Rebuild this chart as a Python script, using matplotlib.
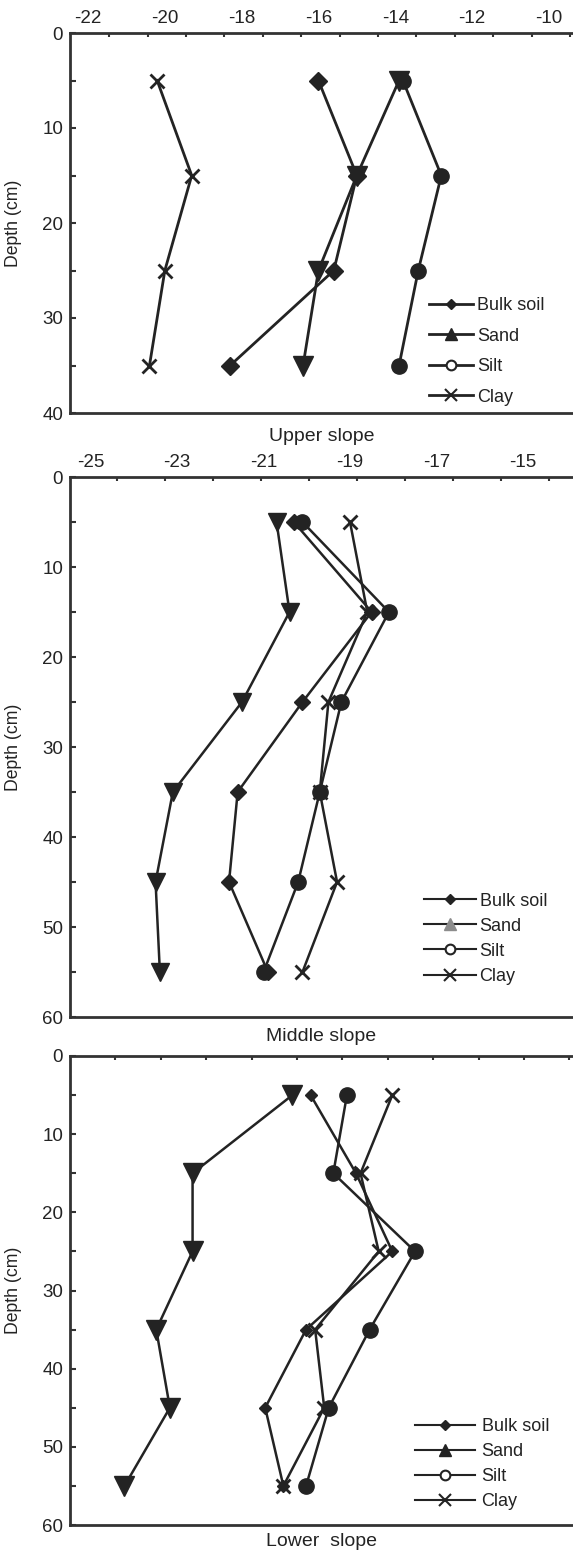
import matplotlib
matplotlib.use("Agg")
import matplotlib.pyplot as plt
from matplotlib.lines import Line2D
import numpy as np

plt.rcParams['font.family'] = ['Liberation Sans', 'DejaVu Sans']
plt.rcParams['axes.unicode_minus'] = False

W, H = 573, 1551
INK = "#232323"

# depth of the samples (cm)
depth_upper = [5, 15, 25, 35]
depth = [5, 15, 25, 35, 45, 55]

# delta 13C values
upper_bulk = [-16.0, -15.0, -15.6, -18.3]
upper_sand = [-13.9, -15.0, -16.0, -16.4]
upper_silt = [-13.8, -12.8, -13.4, -13.9]
upper_clay = [-20.2, -19.3, -20.0, -20.4]

middle_bulk = [-20.3, -18.5, -20.1, -21.6, -21.8, -20.9]
middle_sand = [-20.7, -20.4, -21.5, -23.1, -23.5, -23.4]
middle_silt = [-20.1, -18.1, -19.2, -19.7, -20.2, -21.0]
middle_clay = [-19.0, -18.6, -19.5, -19.7, -19.3, -20.1]

lower_bulk = [-19.7, -18.7, -17.9, -19.8, -20.7, -20.3]
lower_sand = [-20.1, -22.3, -22.3, -23.1, -22.8, -23.8]
lower_silt = [-18.9, -19.2, -17.4, -18.4, -19.3, -19.8]
lower_clay = [-17.9, -18.6, -18.2, -19.6, -19.4, -20.3]

series_names = ["Bulk soil", "Sand", "Silt", "Clay"]

upper_labels = [-22, -20, -18, -16, -14, -12, -10]
middle_labels = [-25, -23, -21, -19, -17, -15]


def make_axes(fig, left, top, bottom):
    return fig.add_axes([left / W, 1 - bottom / H, 1 - left / W, (bottom - top) / H])


def style_axes(ax, ymax, title, labelpad):
    for side in ("top", "left", "bottom"):
        ax.spines[side].set_linewidth(2.0)
        ax.spines[side].set_color("#333333")
    ax.spines["right"].set_visible(False)
    ax.set_ylim(ymax, 0)
    ax.set_yticks(np.arange(0, ymax + 1, 10))
    ax.set_yticks(np.arange(5, ymax, 10), minor=True)
    ax.tick_params(axis="y", which="both", direction="in", length=4.5, width=1.5,
                   color="#333333", labelsize=13.5, labelcolor=INK, pad=5)
    ax.xaxis.tick_top()
    ax.tick_params(axis="x", which="both", direction="in", length=3, width=1.5,
                   color="#333333", labelsize=13.5, labelcolor=INK, pad=4,
                   bottom=False, labelbottom=False)
    ax.set_xlabel(title, fontsize=14, color=INK, labelpad=labelpad)
    ax.set_ylabel("Depth (cm)", fontsize=12.7, color=INK)
    ax.yaxis.set_label_coords(-48 / (W * ax.get_position().width), 0.5)


def add_legend(ax, x, y, hl, spacing, sand_color, pad, lw):
    handles = [
        Line2D([], [], color=INK, lw=lw, marker="D", ms=5, mfc=INK, mec=INK),
        Line2D([], [], color=INK, lw=lw, marker="^", ms=9, mfc=sand_color, mec=sand_color),
        Line2D([], [], color=INK, lw=lw, marker="o", ms=7, mfc="white", mec=INK, mew=1.5),
        Line2D([], [], color=INK, lw=lw, marker="x", ms=8, mec=INK, mew=1.5),
    ]
    ax.legend(handles, series_names, loc="center left", bbox_to_anchor=(x, y),
              frameon=False, fontsize=13, numpoints=1, handlelength=hl,
              handletextpad=pad, labelspacing=spacing, borderpad=0, borderaxespad=0,
              labelcolor=INK)


def draw_profile(ax, d, bulk, sand, silt, clay, sizes, lw):
    kw = dict(color=INK, lw=lw, mfc=INK, mec=INK)
    ax.plot(clay, d, marker="x", ms=sizes[3], mew=2, **kw)
    ax.plot(sand, d, marker="v", ms=sizes[1], **kw)
    ax.plot(silt, d, marker="o", ms=sizes[2], **kw)
    ax.plot(bulk, d, marker="D", ms=sizes[0], **kw)


fig = plt.figure(figsize=(W / 100, H / 100), dpi=100)

# upper slope
ax1 = make_axes(fig, 70, 33, 413)
draw_profile(ax1, depth_upper, upper_bulk, upper_sand, upper_silt, upper_clay, (9, 14, 11, 10), 2.0)
ax1.set_xlim(-22.47, -9.37)
ax1.set_xticks(upper_labels)
ax1.set_xticks(np.arange(-21.45, -9.4, 1.0), minor=True)
style_axes(ax1, 40, "Upper slope", 11)
ax1.tick_params(axis="x", which="major", length=0)
add_legend(ax1, 0.714, 0.162, 2.44, 0.75, INK, 0.2, 2.0)

# middle slope
ax2 = make_axes(fig, 70, 477, 1017)
draw_profile(ax2, depth, middle_bulk, middle_sand, middle_silt, middle_clay, (8, 13, 11, 10), 1.8)
ax2.set_xlim(-25.48, -13.84)
ax2.set_xticks(middle_labels)
ax2.set_xticks(np.arange(-24.39, -13.9, 1.11), minor=True)
style_axes(ax2, 60, "Middle slope", 8)
ax2.tick_params(axis="x", which="major", length=0)
add_legend(ax2, 0.703, 0.145, 2.9, 0.45, "#8c8c8c", 0.2, 1.5)

# lower slope (no x tick labels in the source)
ax3 = make_axes(fig, 70, 1056, 1525)
draw_profile(ax3, depth, lower_bulk, lower_sand, lower_silt, lower_clay, (6, 14, 11, 10), 1.8)
ax3.set_xlim(-25.0, -13.92)
ax3.set_xticks(np.arange(-24, -13.9, 1.0))
style_axes(ax3, 60, "Lower  slope", 6)
ax3.tick_params(axis="x", which="major", labeltop=False)
add_legend(ax3, 0.686, 0.130, 3.3, 0.45, INK, 0.38, 1.5)

fig.savefig("out.png", dpi=100)
